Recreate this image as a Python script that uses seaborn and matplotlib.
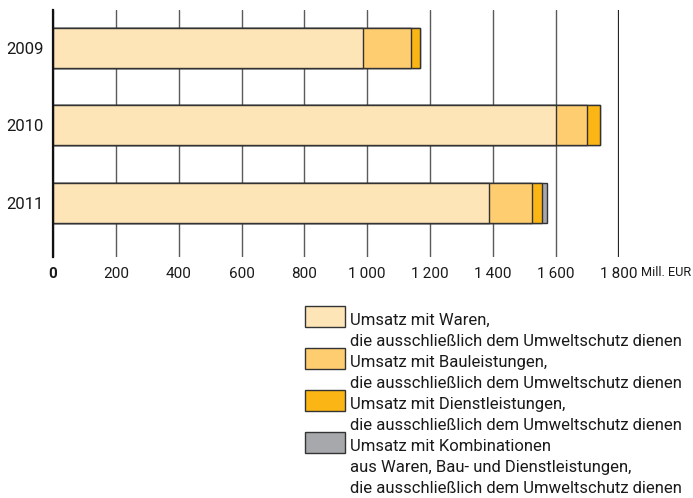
import matplotlib
matplotlib.use("Agg")
import matplotlib.pyplot as plt
import numpy as np
import pandas as pd
import seaborn as sns
from matplotlib.patches import Rectangle

# data (Mill. EUR)
years = ["2009", "2010", "2011"]
waren = [987, 1602, 1387]
bau = [152, 98, 137]
dienst = [28, 41, 32]
komb = [0, 0, 17]

series_names = ["Waren", "Bau", "Dienst", "Komb"]
colors = ["#FDE5B7", "#FECD70", "#FBB615", "#A7A8AC"]
legend_labels = [
    ["Umsatz mit Waren,", "die ausschließlich dem Umweltschutz dienen"],
    ["Umsatz mit Bauleistungen,", "die ausschließlich dem Umweltschutz dienen"],
    ["Umsatz mit Dienstleistungen,", "die ausschließlich dem Umweltschutz dienen"],
    ["Umsatz mit Kombinationen", "aus Waren, Bau- und Dienstleistungen,",
     "die ausschließlich dem Umweltschutz dienen"],
]
xticks = [0, 200, 400, 600, 800, 1000, 1200, 1400, 1600, 1800]
xtick_labels = ["0", "200", "400", "600", "800", "1\u2009000", "1\u2009200",
                "1\u2009400", "1\u2009600", "1\u2009800"]

df = pd.DataFrame({"Jahr": years, "Waren": waren, "Bau": bau,
                   "Dienst": dienst, "Komb": komb})
cum = df[series_names].cumsum(axis=1)
cum["Jahr"] = df["Jahr"]

sns.set_style("white")
plt.rcParams["font.family"] = ["Roboto", "DejaVu Sans"]

fig = plt.figure(figsize=(6.93, 4.98), dpi=100)
ax = fig.add_axes([53 / 693, 1 - 257 / 498, 565.5 / 693, 247 / 498])

# stacked bars: draw cumulative totals from the outside in
for name, col in reversed(list(zip(series_names, colors))):
    sns.barplot(data=cum, x=name, y="Jahr", orient="h", color=col,
                saturation=1, width=0.516, edgecolor="#333333",
                linewidth=1.0, ax=ax, errorbar=None)

ax.set_xlim(0, 1800)
ax.set_ylim(2.70, -0.49)
ax.set_xticks(xticks)
ax.set_xticklabels(xtick_labels, fontsize=11, color="#1a1a1a")
ax.get_xticklabels()[0].set_fontweight("bold")
ax.tick_params(axis="both", length=0)
ax.tick_params(axis="x", pad=7)
ax.tick_params(axis="y", pad=6.5, labelsize=12, labelcolor="#1a1a1a")
ax.set_xlabel("")
ax.set_ylabel("")
ax.set_axisbelow(True)
ax.grid(axis="x", color="#5a5a5a", linewidth=1.0)
ax.grid(axis="y", visible=False)
ax.axvline(1800, color="#1a1a1a", linewidth=1.6, zorder=0.5)
for s in ["top", "right", "bottom"]:
    ax.spines[s].set_visible(False)
ax.spines["left"].set_color("#111111")
ax.spines["left"].set_linewidth(1.6)

fig.text(641 / 693, 1 - 272 / 498, "Mill. EUR", fontsize=9.2, va="center",
         ha="left", color="#1a1a1a")

# legend drawn by hand: swatch beside the first line of each label
tops = [306, 348, 390, 432]
pitch = 20.8
for top, col, lines in zip(tops, colors, legend_labels):
    fig.patches.append(Rectangle((305 / 693, 1 - (top + 21) / 498), 40 / 693,
                                 21 / 498, transform=fig.transFigure,
                                 facecolor=col, edgecolor="#333333",
                                 linewidth=1.0))
    for i, line in enumerate(lines):
        base = top + 19 + i * pitch
        fig.text(350 / 693, 1 - base / 498, line, fontsize=12, va="baseline",
                 ha="left", color="#1a1a1a")

fig.savefig("out.png", dpi=100)
